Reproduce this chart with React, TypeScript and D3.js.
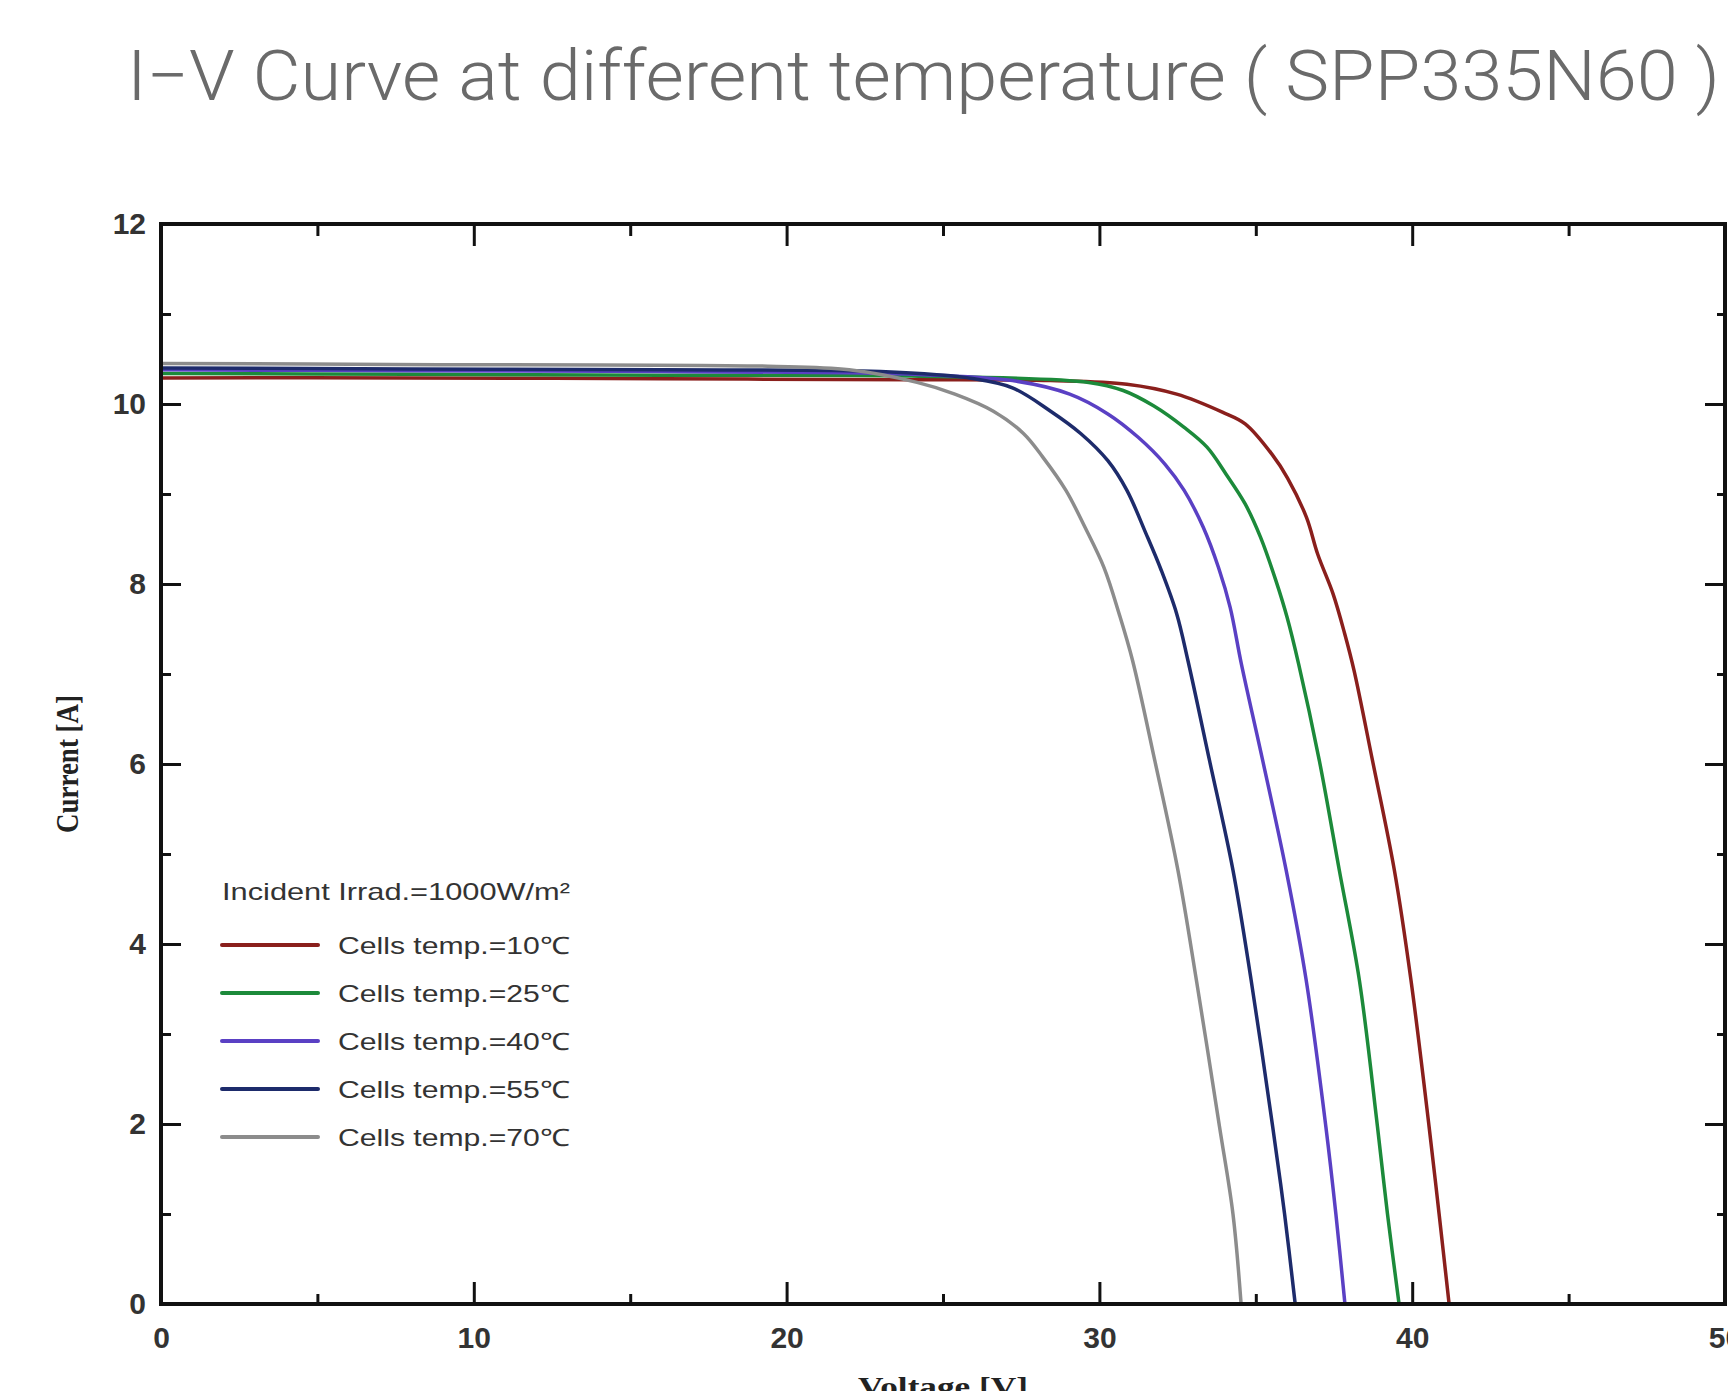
import React, { useEffect, useRef } from "react";
import * as d3 from "d3";

const W = 1728;
const H = 1391;

// axis ticks
const xMajor = [0, 10, 20, 30, 40, 50];
const xMinor = [5, 15, 25, 35, 45];
const yMajor = [0, 2, 4, 6, 8, 10, 12];
const yMinor = [1, 3, 5, 7, 9, 11];

// [voltage V, current A]
const temp10 = [
  [0, 10.29], [8, 10.29], [16, 10.28], [24, 10.27], [28.44, 10.26], [30.88, 10.22],
  [32.47, 10.11], [33.93, 9.91], [34.66, 9.78], [35.52, 9.44], [36.01, 9.18],
  [36.62, 8.74], [36.98, 8.33], [37.47, 7.89], [37.84, 7.45], [38.14, 7.04],
  [38.73, 6.04], [39.43, 4.82], [39.96, 3.6], [40.54, 1.97], [40.86, 1.0], [41.18, 0],
];
const temp25 = [
  [0, 10.34], [8, 10.33], [16, 10.32], [24, 10.31], [29.66, 10.24], [30.76, 10.15],
  [31.73, 9.98], [32.71, 9.74], [33.44, 9.52], [34.05, 9.22], [34.66, 8.89],
  [35.15, 8.52], [35.64, 8.04], [36.0, 7.63], [36.37, 7.11], [37.03, 6.04],
  [37.67, 4.82], [38.31, 3.6], [38.89, 1.97], [39.21, 1.0], [39.58, 0],
];
const temp40 = [
  [0, 10.38], [8, 10.37], [16, 10.36], [24, 10.33], [27.22, 10.26], [29.05, 10.11],
  [30.27, 9.89], [31.24, 9.63], [32.1, 9.33], [32.71, 9.04], [33.32, 8.63],
  [33.81, 8.18], [34.18, 7.74], [34.54, 7.11], [35.22, 6.04], [35.97, 4.82],
  [36.61, 3.6], [37.24, 1.97], [37.56, 1.0], [37.85, 0],
];
const temp55 = [
  [0, 10.4], [8, 10.39], [16, 10.38], [23, 10.36], [26.0, 10.28], [27.22, 10.18],
  [28.44, 9.92], [29.41, 9.67], [30.27, 9.37], [30.88, 9.04], [31.49, 8.56],
  [31.98, 8.15], [32.47, 7.67], [32.83, 7.15], [33.52, 6.04], [34.27, 4.82],
  [34.85, 3.6], [35.54, 1.97], [35.92, 1.0], [36.26, 0],
];
const temp70 = [
  [0, 10.45], [7.4, 10.44], [19.4, 10.42], [22, 10.38], [24.17, 10.24], [25.38, 10.11],
  [26.61, 9.92], [27.58, 9.67], [28.19, 9.41], [28.93, 9.04], [29.54, 8.63],
  [30.15, 8.18], [30.63, 7.67], [31.06, 7.15], [31.77, 6.04], [32.51, 4.82],
  [33.1, 3.6], [33.84, 1.97], [34.27, 1.0], [34.53, 0],
];

const seriesData = [temp10, temp25, temp40, temp55, temp70];
const seriesLabels = [
  "Cells temp.=10℃",
  "Cells temp.=25℃",
  "Cells temp.=40℃",
  "Cells temp.=55℃",
  "Cells temp.=70℃",
];
const seriesColors = ["#8a1f1c", "#1c8a3a", "#5a40c4", "#1d2b6b", "#8c8c8c"];

const plot = { left: 161, right: 1725, top: 224, bottom: 1304 };

export default function App() {
  const svgRef = useRef(null);

  useEffect(() => {
    const svg = d3.select(svgRef.current);
    svg.selectAll("*").remove();

    const x = d3.scaleLinear().domain([0, 50]).range([plot.left, plot.right]);
    const y = d3.scaleLinear().domain([0, 12]).range([plot.bottom, plot.top]);

    // title
    svg.append("text")
      .attr("x", 127)
      .attr("y", 100)
      .attr("textLength", 1593)
      .attr("lengthAdjust", "spacingAndGlyphs")
      .attr("font-family", "Roboto, Lato, 'Liberation Sans', sans-serif")
      .attr("font-weight", 300)
      .attr("font-size", 70)
      .attr("fill", "#6a6a6a")
      .text("I−V Curve at different temperature ( SPP335N60 )");

    const styleAxis = (g, labels) => {
      g.select(".domain").remove();
      g.selectAll("line").attr("stroke", "#111").attr("stroke-width", 3);
      g.attr("font-family", "'Liberation Sans', Arial, sans-serif")
        .attr("font-size", 30)
        .attr("font-weight", "bold");
      g.selectAll("text").attr("fill", "#333");
      if (!labels) g.selectAll("text").remove();
    };

    // bottom
    svg.append("g")
      .attr("transform", `translate(0,${plot.bottom})`)
      .call(d3.axisBottom(x).tickValues(xMajor).tickSize(-22).tickPadding(23).tickFormat(d3.format("d")))
      .call((g) => styleAxis(g, true));
    svg.append("g")
      .attr("transform", `translate(0,${plot.bottom})`)
      .call(d3.axisBottom(x).tickValues(xMinor).tickSize(-10))
      .call((g) => styleAxis(g, false));
    // top
    svg.append("g")
      .attr("transform", `translate(0,${plot.top})`)
      .call(d3.axisTop(x).tickValues(xMajor).tickSize(-22))
      .call((g) => styleAxis(g, false));
    svg.append("g")
      .attr("transform", `translate(0,${plot.top})`)
      .call(d3.axisTop(x).tickValues(xMinor).tickSize(-12))
      .call((g) => styleAxis(g, false));
    // left
    svg.append("g")
      .attr("transform", `translate(${plot.left},0)`)
      .call(d3.axisLeft(y).tickValues(yMajor).tickSize(-20).tickPadding(15).tickFormat(d3.format("d")))
      .call((g) => styleAxis(g, true));
    svg.append("g")
      .attr("transform", `translate(${plot.left},0)`)
      .call(d3.axisLeft(y).tickValues(yMinor).tickSize(-10))
      .call((g) => styleAxis(g, false));
    // right
    svg.append("g")
      .attr("transform", `translate(${plot.right},0)`)
      .call(d3.axisRight(y).tickValues(yMajor).tickSize(-20))
      .call((g) => styleAxis(g, false));
    svg.append("g")
      .attr("transform", `translate(${plot.right},0)`)
      .call(d3.axisRight(y).tickValues(yMinor).tickSize(-8))
      .call((g) => styleAxis(g, false));

    // curves
    const line = d3.line()
      .x((d) => x(d[0]))
      .y((d) => y(d[1]))
      .curve(d3.curveCatmullRom.alpha(0.5));

    svg.append("g")
      .selectAll("path")
      .data(seriesData)
      .join("path")
      .attr("d", line)
      .attr("fill", "none")
      .attr("stroke", (_, i) => seriesColors[i])
      .attr("stroke-width", 3.5)
      .attr("stroke-linejoin", "round");

    // frame
    svg.append("rect")
      .attr("x", plot.left)
      .attr("y", plot.top)
      .attr("width", plot.right - plot.left)
      .attr("height", plot.bottom - plot.top)
      .attr("fill", "none")
      .attr("stroke", "#111")
      .attr("stroke-width", 4);

    // axis titles
    svg.append("text")
      .attr("transform", `translate(78,${(plot.top + plot.bottom) / 2}) scale(1.2,1) rotate(-90)`)
      .attr("text-anchor", "middle")
      .attr("font-family", "'Liberation Serif', 'Times New Roman', serif")
      .attr("font-weight", "bold")
      .attr("font-size", 27)
      .attr("fill", "#222")
      .text("Current [A]");

    svg.append("text")
      .attr("x", x(25))
      .attr("y", 1396)
      .attr("text-anchor", "middle")
      .attr("textLength", 170)
      .attr("lengthAdjust", "spacingAndGlyphs")
      .attr("font-family", "'Liberation Serif', 'Times New Roman', serif")
      .attr("font-weight", "bold")
      .attr("font-size", 28)
      .attr("fill", "#222")
      .text("Voltage [V]");

    // legend
    const legend = svg.append("g").attr("font-family", "'Liberation Sans', Arial, sans-serif");
    legend.append("text")
      .attr("x", 222)
      .attr("y", 900)
      .attr("textLength", 348)
      .attr("lengthAdjust", "spacingAndGlyphs")
      .attr("font-size", 24)
      .attr("fill", "#333")
      .text("Incident Irrad.=1000W/m²");

    const rowY = (i) => 945 + i * 48;
    const rows = legend.selectAll("g.row")
      .data(seriesLabels)
      .join("g")
      .attr("class", "row")
      .attr("transform", (_, i) => `translate(0,${rowY(i)})`);
    rows.append("line")
      .attr("x1", 222)
      .attr("x2", 318)
      .attr("stroke", (_, i) => seriesColors[i])
      .attr("stroke-width", 4)
      .attr("stroke-linecap", "round");
    rows.append("text")
      .attr("x", 338)
      .attr("y", 9)
      .attr("textLength", 232)
      .attr("lengthAdjust", "spacingAndGlyphs")
      .attr("font-size", 24)
      .attr("fill", "#333")
      .text((d) => d);
  }, []);

  return (
    <svg
      ref={svgRef}
      width={W}
      height={H}
      style={{ position: "absolute", left: 0, top: 0, background: "#fff" }}
    />
  );
}
